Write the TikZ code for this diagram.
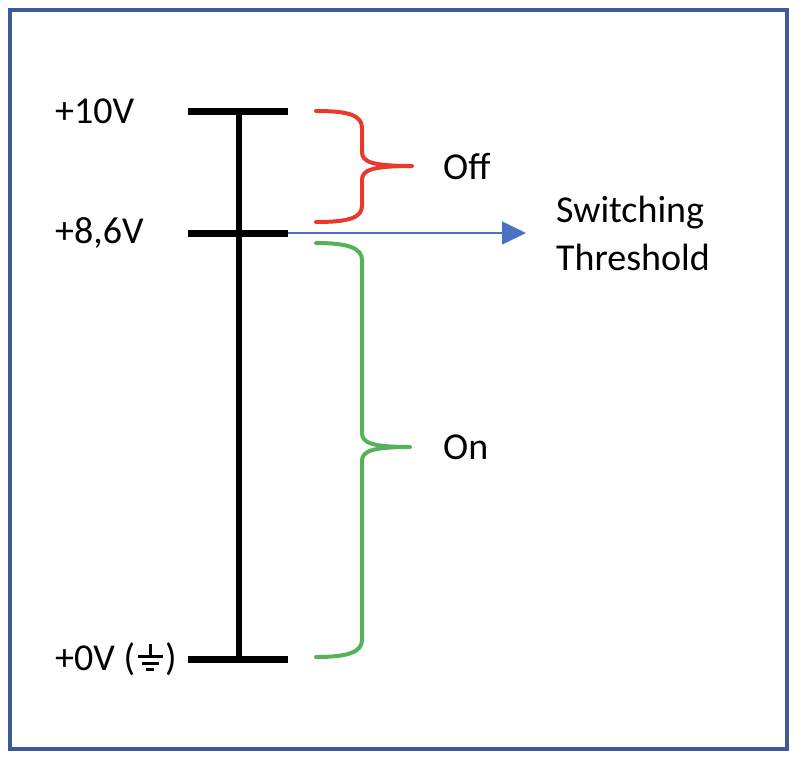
\documentclass[tikz,border=0pt]{standalone}
\usepackage{fontspec}
\setmainfont{Carlito}
\usepackage{tikz}
\usetikzlibrary{arrows.meta, calc, positioning}

\definecolor{framecol}{HTML}{3C5A98}
\definecolor{offred}{HTML}{E8392B}
\definecolor{ongreen}{HTML}{56B15C}
\definecolor{threshblue}{HTML}{4A72C4}

% earth symbol (no installed font has it)
\newcommand{\earthsym}{\tikz[x=1pt, y=1pt, baseline=0pt, line width=3pt]{
    \draw (12.5,27) -- (12.5,14);
    \draw (0,14) -- (25,14);
    \draw (4,7.5) -- (21,7.5);
    \draw (8.5,1) -- (16.5,1);}}

\tikzset{
    levellabel/.style={anchor=west, inner sep=0pt, font=\fontsize{38}{48}\selectfont},
    tick/.style={line width=7pt},
    bracepath/.style={line width=4pt, line cap=round, line join=round}
}

\begin{document}
\begin{tikzpicture}[x=1pt, y=-1pt]
    \useasboundingbox (0,0) rectangle (802,766);
    % Frame
    \draw[framecol, line width=4pt] (10,10) rectangle (787,749);

    % Level ticks
    \coordinate (tenL) at (188,111);   \coordinate (tenR) at (288,111);
    \coordinate (thrL) at (188,233);   \coordinate (thrR) at (288,233);
    \coordinate (zeroL) at (188,659);  \coordinate (zeroR) at (288,659);
    \draw[tick] (tenL) -- (tenR);
    \draw[tick] (thrL) -- (thrR);
    \draw[tick] (zeroL) -- (zeroR);

    % Voltage axis
    \coordinate (axtop) at (239,111);
    \coordinate (axbot) at (239,659);
    \draw[line width=6.5pt] (axtop) -- (axbot);

    % Level labels
    \node[levellabel] (ten) at (55,111) {+10V};
    \node[levellabel] (thr) at (55,233) {+8,6V};
    \node[levellabel] (zero) at (55,659) {+0V (\hspace{1pt}\earthsym\hspace{1pt})};

    % Off range (red brace)
    \draw[offred, bracepath] (316,111) .. controls (348,111) and (362,115) .. (362,128)
        -- (362,152) .. controls (362,162) and (372,166) .. (412,166)
        .. controls (372,166) and (362,170) .. (362,180)
        -- (362,206) .. controls (362,218) and (348,222) .. (316,222);
    \node[levellabel] (off) at (443,166) {Off};

    % On range (green brace)
    \draw[ongreen, bracepath] (316,243) .. controls (348,243) and (362,248) .. (362,260)
        -- (362,433) .. controls (362,443) and (372,447) .. (410,447)
        .. controls (372,447) and (362,451) .. (362,461)
        -- (362,640) .. controls (362,652) and (348,657) .. (316,657);
    \node[levellabel] (on) at (443,447) {On};

    % Threshold arrow
    \coordinate (arrowend) at (526,233);
    \draw[threshblue, line width=1.6pt, -{Triangle[length=24pt, width=23pt]}] (thrR) -- (arrowend);
    \node[levellabel, align=left] (switch) at (556,233) {Switching\\Threshold};
\end{tikzpicture}
\end{document}
